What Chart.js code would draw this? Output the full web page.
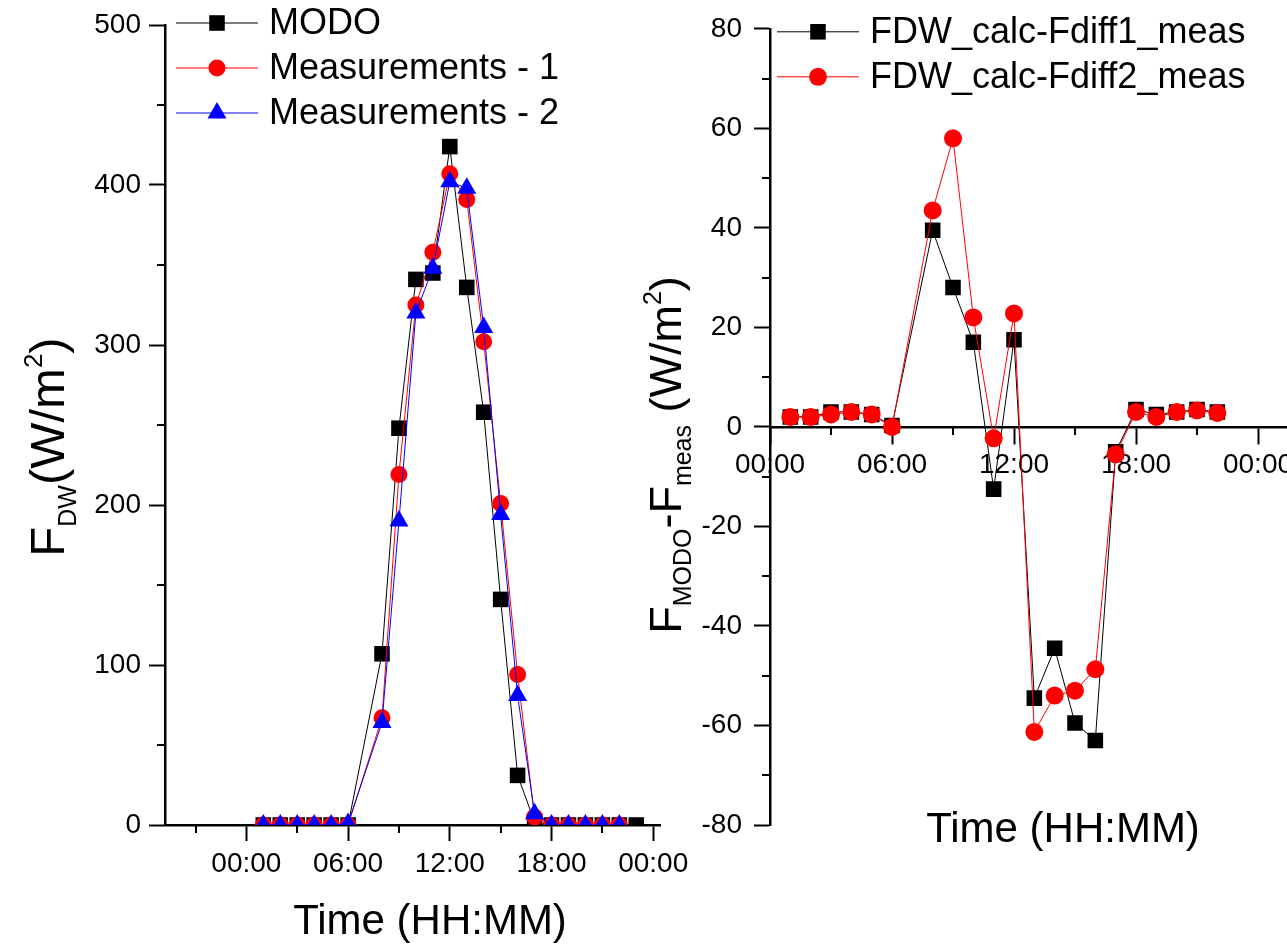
<!DOCTYPE html>
<html lang="en">
<head>
<meta charset="UTF-8">
<title>FDW: MODO vs measurements</title>
<script src="https://cdn.jsdelivr.net/npm/chart.js@4"></script>
<style>
  body { margin: 0; background: #fff; overflow: hidden; }
  canvas { position: absolute; top: 0; }
  #left { left: 0; }
  #right { left: 640px; }
</style>
</head>
<body>
<canvas id="left" width="700" height="947"></canvas>
<canvas id="right" width="720" height="947"></canvas>
<script>
// hour of day for each sample (no sample at 07:00)
const hoursModo = [1, 2, 3, 4, 5, 6, 8, 9, 10, 11, 12, 13, 14, 15, 16, 17, 18, 19, 20, 21, 22, 23];
const hoursMeas = [1, 2, 3, 4, 5, 6, 8, 9, 10, 11, 12, 13, 14, 15, 16, 17, 18, 19, 20, 21, 22];

// left panel, F_DW in W/m2
const modo  = [0, 0, 0, 0, 0, 0, 107, 248, 341, 345, 424, 336, 258, 141, 31, 2, 0, 0, 0, 0, 0, 0];
const meas1 = [0, 0, 0, 0, 0, 0, 67, 219, 325, 358, 407, 391, 302, 201, 94, 5, 0, 0, 0, 0, 0];
const meas2 = [0, 0, 0, 0, 0, 1, 64, 190, 320, 348, 402, 398, 311, 194, 81, 7, 0, 0, 0, 0, 0];

// right panel, differences in W/m2
const fdiff1 = [2, 2, 3, 3, 2.5, 0.3, 39.5, 28, 17, -12.5, 17.5, -54.5, -44.5, -59.5, -63, -5, 3.5, 2.5, 3, 3.5, 3];
const fdiff2 = [2, 2, 2.5, 3, 2.5, 0, 43.5, 58, 22, -2.3, 22.8, -61.3, -54, -53, -48.7, -5.5, 3, 2, 3, 3.3, 2.8];

// ticks
const timeTicks = [0, 6, 12, 18, 24];
const timeLabels = ['00:00', '06:00', '12:00', '18:00', '00:00'];
const timeMinor = [-3, 3, 9, 15, 21, 27];
const fdwTicks = [0, 100, 200, 300, 400, 500];
const fdwMinor = [50, 150, 250, 350, 450];
const diffTicks = [-80, -60, -40, -20, 0, 20, 40, 60, 80];
const diffMinor = [-70, -50, -30, -10, 10, 30, 50, 70];

const FONT = "'Liberation Sans', Arial, Helvetica, sans-serif";
Chart.defaults.font.family = FONT;
Chart.defaults.color = '#000';

function pts(xs, ys) {
  return xs.map((x, i) => ({x: x, y: ys[i]}));
}

function hhmm(v) {
  const i = timeTicks.indexOf(v);
  return i >= 0 ? timeLabels[i] : '';
}

// set the ticks by hand, minor ones get a flag and no label
function buildTicks(major, minor) {
  return scale => {
    scale.ticks = major.map(v => ({value: v}))
      .concat(minor.map(v => ({value: v, minor: true})))
      .filter(t => t.value >= scale.min && t.value <= scale.max)
      .sort((a, b) => a.value - b.value);
  };
}

const majorColor = c => (c.tick && c.tick.minor) ? 'rgba(0,0,0,0)' : '#000';
const MINOR_LEN = 8;

// short minor ticks
const minorTicks = {
  id: 'minorTicks',
  afterDraw(chart) {
    const ctx = chart.ctx, area = chart.chartArea;
    ctx.save();
    ctx.strokeStyle = '#000';
    ctx.lineWidth = 2;
    Object.values(chart.scales).forEach(s => {
      s.ticks.filter(t => t.minor).forEach(t => {
        const p = Math.round(s.getPixelForValue(t.value));
        ctx.beginPath();
        if (s.isHorizontal()) {
          const pos = s.options.position;
          const y0 = typeof pos === 'object' ? chart.scales.y.getPixelForValue(pos.y) : area.bottom;
          ctx.moveTo(p, y0);
          ctx.lineTo(p, y0 + MINOR_LEN);
        } else {
          ctx.moveTo(area.left, p);
          ctx.lineTo(area.left - MINOR_LEN, p);
        }
        ctx.stroke();
      });
    });
    ctx.restore();
  }
};

// text with sub/superscripts, parts = [text, size, shift]
function richText(ctx, parts, base, cy) {
  ctx.save();
  let total = 0;
  parts.forEach(p => {
    ctx.font = p[1] + 'px ' + FONT;
    p.w = ctx.measureText(p[0]).width;
    total += p.w;
  });
  ctx.translate(base, cy);
  ctx.rotate(-Math.PI / 2);
  ctx.fillStyle = '#000';
  ctx.textBaseline = 'alphabetic';
  ctx.textAlign = 'left';
  let x = -total / 2;
  parts.forEach(p => {
    ctx.font = p[1] + 'px ' + FONT;
    ctx.fillText(p[0], x, p[2]);
    x += p.w;
  });
  ctx.restore();
}

function drawMarker(ctx, ds, x, y) {
  const r = ds.pointRadius;
  ctx.fillStyle = ds.backgroundColor;
  ctx.beginPath();
  if (ds.pointStyle === 'rect') {
    const h = r * Math.SQRT1_2;
    ctx.rect(x - h, y - h, 2 * h, 2 * h);
  } else if (ds.pointStyle === 'triangle') {
    ctx.moveTo(x, y - r);
    ctx.lineTo(x + r * 0.866, y + r / 2);
    ctx.lineTo(x - r * 0.866, y + r / 2);
    ctx.closePath();
  } else {
    ctx.arc(x, y, r, 0, Math.PI * 2);
  }
  ctx.fill();
}

// legend + axis titles
function decorations(opt) {
  return {
    id: 'decorations',
    afterDraw(chart) {
      const ctx = chart.ctx, area = chart.chartArea;
      ctx.save();
      chart.data.datasets.forEach((ds, i) => {
        const y = area.top + opt.legendY + i * opt.legendGap;
        const x0 = area.left + opt.legendX;
        ctx.strokeStyle = ds.borderColor;
        ctx.lineWidth = 1;
        ctx.beginPath();
        ctx.moveTo(x0, y);
        ctx.lineTo(x0 + 82, y);
        ctx.stroke();
        drawMarker(ctx, ds, x0 + 41, y);
        ctx.fillStyle = '#000';
        ctx.font = '36px ' + FONT;
        ctx.textBaseline = 'middle';
        ctx.fillText(ds.label, x0 + 93, y + 1);
      });
      ctx.font = '42px ' + FONT;
      ctx.textAlign = 'center';
      ctx.textBaseline = 'middle';
      ctx.fillText('Time (HH:MM)', area.left + opt.xTitleX, opt.xTitleY);
      ctx.restore();
      richText(ctx, opt.yTitle, opt.yTitleBase, opt.yTitleY);
    }
  };
}

function lineSet(label, data, color, style, radius, order) {
  return {
    label: label,
    data: data,
    borderColor: color,
    backgroundColor: color,
    borderWidth: 1,
    pointStyle: style,
    pointRadius: radius,
    pointBorderWidth: 0,
    order: order
  };
}

function timeAxis(min, max, extra) {
  return Object.assign({
    type: 'linear',
    min: min,
    max: max,
    afterBuildTicks: buildTicks(timeTicks, timeMinor),
    grid: {drawOnChartArea: false, tickLength: 16, tickWidth: 2, tickColor: majorColor},
    border: {color: '#000', width: 2.5},
    ticks: {autoSkip: false, maxRotation: 0, padding: 6, font: {size: 28}, callback: hhmm}
  }, extra);
}

function valueAxis(min, max, major, minor, width, pad) {
  return {
    min: min,
    max: max,
    afterBuildTicks: buildTicks(major, minor),
    afterFit: s => { s.width = width; },
    grid: {drawOnChartArea: false, tickLength: 16, tickWidth: 2, tickColor: majorColor},
    border: {color: '#000', width: 2.5},
    ticks: {autoSkip: false, padding: pad, font: {size: 28},
      callback: v => major.indexOf(v) >= 0 ? String(v) : ''}
  };
}

new Chart(document.getElementById('left'), {
  type: 'line',
  data: {
    datasets: [
      lineSet('MODO', pts(hoursModo, modo), '#000000', 'rect', 11, 3),
      lineSet('Measurements - 1', pts(hoursMeas, meas1), '#ff0000', 'circle', 8.5, 2),
      lineSet('Measurements - 2', pts(hoursMeas, meas2), '#0000ff', 'triangle', 11, 1)
    ]
  },
  options: {
    responsive: false,
    animation: false,
    events: [],
    layout: {padding: {top: 25, right: 40, left: 0, bottom: 0}},
    plugins: {legend: {display: false}, tooltip: {enabled: false}},
    scales: {
      x: timeAxis(-4.8, 24.4, {afterFit: s => { s.height = 122; }}),
      y: valueAxis(0, 500, fdwTicks, fdwMinor, 165, 8)
    }
  },
  plugins: [minorTicks, decorations({
    legendX: 11, legendY: -2, legendGap: 45,
    xTitleX: 265, xTitleY: 922,
    yTitle: [['F', 49, 0], ['DW', 25, 12], ['(W/m', 49, 0], ['2', 26, -22], [')', 49, 0]],
    yTitleBase: 64, yTitleY: 447
  })]
});

new Chart(document.getElementById('right'), {
  type: 'line',
  data: {
    datasets: [
      lineSet('FDW_calc-Fdiff1_meas', pts(hoursMeas, fdiff1), '#000000', 'rect', 11, 2),
      lineSet('FDW_calc-Fdiff2_meas', pts(hoursMeas, fdiff2), '#ff0000', 'circle', 9, 1)
    ]
  },
  options: {
    responsive: false,
    animation: false,
    events: [],
    layout: {padding: {top: 25, right: 41, left: 0, bottom: 122}},
    plugins: {legend: {display: false}, tooltip: {enabled: false}},
    scales: {
      x: timeAxis(0, 27, {position: {y: 0}}),
      y: valueAxis(-80, 80, diffTicks, diffMinor, 130, 12)
    }
  },
  plugins: [minorTicks, decorations({
    legendX: 7, legendY: 3, legendGap: 45,
    xTitleX: 293, xTitleY: 830,
    yTitle: [['F', 45, 0], ['MODO', 25, 10], ['-F', 45, 0], ['meas', 25, 10], [' (W/m', 45, 0], ['2', 25, -20], [')', 45, 0]],
    yTitleBase: 41, yTitleY: 455
  })]
});
</script>
</body>
</html>
